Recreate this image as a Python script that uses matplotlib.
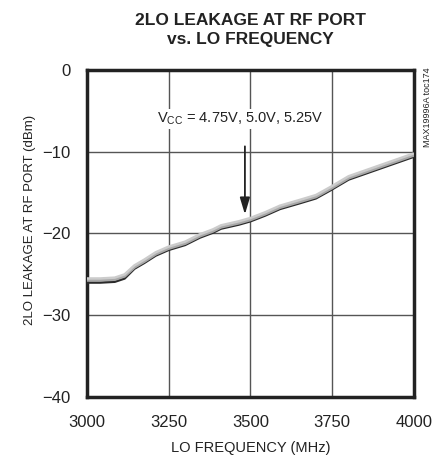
import matplotlib
matplotlib.use("Agg")
import matplotlib.pyplot as plt

freq = [3000, 3040, 3085, 3115, 3145, 3175, 3210, 3250, 3300, 3345, 3385, 3410,
        3465, 3500, 3545, 3590, 3650, 3700, 3745, 3800, 3850, 3900, 3950, 4000]
leak_500 = [-25.7, -25.7, -25.6, -25.2, -24.1, -23.4, -22.5, -21.8, -21.2, -20.3, -19.7, -19.2,
            -18.7, -18.3, -17.6, -16.8, -16.1, -15.5, -14.5, -13.2, -12.5, -11.8, -11.1, -10.4]
leak_525 = [-26.0, -26.0, -25.9, -25.5, -24.3, -23.6, -22.7, -22.0, -21.4, -20.5, -19.9, -19.4,
            -18.9, -18.5, -17.8, -17.0, -16.3, -15.7, -14.7, -13.4, -12.7, -12.0, -11.3, -10.6]
leak_475 = [-25.5, -25.5, -25.4, -25.0, -23.9, -23.2, -22.3, -21.6, -21.0, -20.1, -19.5, -19.0,
            -18.5, -18.1, -17.4, -16.6, -15.9, -15.3, -14.3, -13.0, -12.3, -11.6, -10.9, -10.2]
xticks = [3000, 3250, 3500, 3750, 4000]
yticks = [0, -10, -20, -30, -40]

plt.rcParams['font.family'] = ['Liberation Sans', 'DejaVu Sans']
ink = "#222222"

fig = plt.figure(figsize=(4.43, 4.62), dpi=100)
ax = fig.add_axes([0.1964, 0.1407, 0.738, 0.7078])

ax.plot(freq, leak_525, color="#2a2a2a", lw=1.8, solid_capstyle="butt", zorder=3)
ax.plot(freq, leak_500, color="#a8a8a8", lw=2.4, solid_capstyle="butt", zorder=4)
ax.plot(freq, leak_475, color="#cccccc", lw=1.8, solid_capstyle="butt", zorder=5)

ax.set_xlim(3000, 4000)
ax.set_ylim(-40, 0)
ax.set_xticks(xticks)
ax.set_yticks(yticks)
ax.grid(True, color="#555555", lw=1.0)
ax.tick_params(length=0, labelsize=12, colors=ink)
ax.tick_params(axis="x", pad=13)
ax.tick_params(axis="y", pad=12)
for s in ax.spines.values():
    s.set_linewidth(2.5)
    s.set_color(ink)

ax.set_xlabel("LO FREQUENCY (MHz)", fontsize=10.5, color=ink, labelpad=8)
ax.set_ylabel("2LO LEAKAGE AT RF PORT (dBm)", fontsize=9.5, color=ink, labelpad=4)
ax.yaxis.label.set_y(0.54)

fig.text(0.566, 0.972, "2LO LEAKAGE AT RF PORT\nvs. LO FREQUENCY", ha="center", va="top",
         fontsize=12.5, fontweight="bold", color=ink, linespacing=1.35)

ax.text(3470, -6.0, r"V$_{\mathregular{CC}}$ = 4.75V, 5.0V, 5.25V", ha="center", va="center",
        fontsize=10.5, color=ink,
        bbox=dict(facecolor="white", edgecolor="none", pad=1.5), zorder=6)
ax.annotate("", xy=(3483, -18.0), xytext=(3483, -9.0),
            arrowprops=dict(arrowstyle="-|>,head_length=1.0,head_width=0.3",
                            color=ink, lw=1.3), zorder=7)

fig.text(0.965, 0.855, "MAX19996A toc174", rotation=90, ha="center", va="top",
         fontsize=6.5, color=ink)

fig.savefig("out.png", dpi=100)
